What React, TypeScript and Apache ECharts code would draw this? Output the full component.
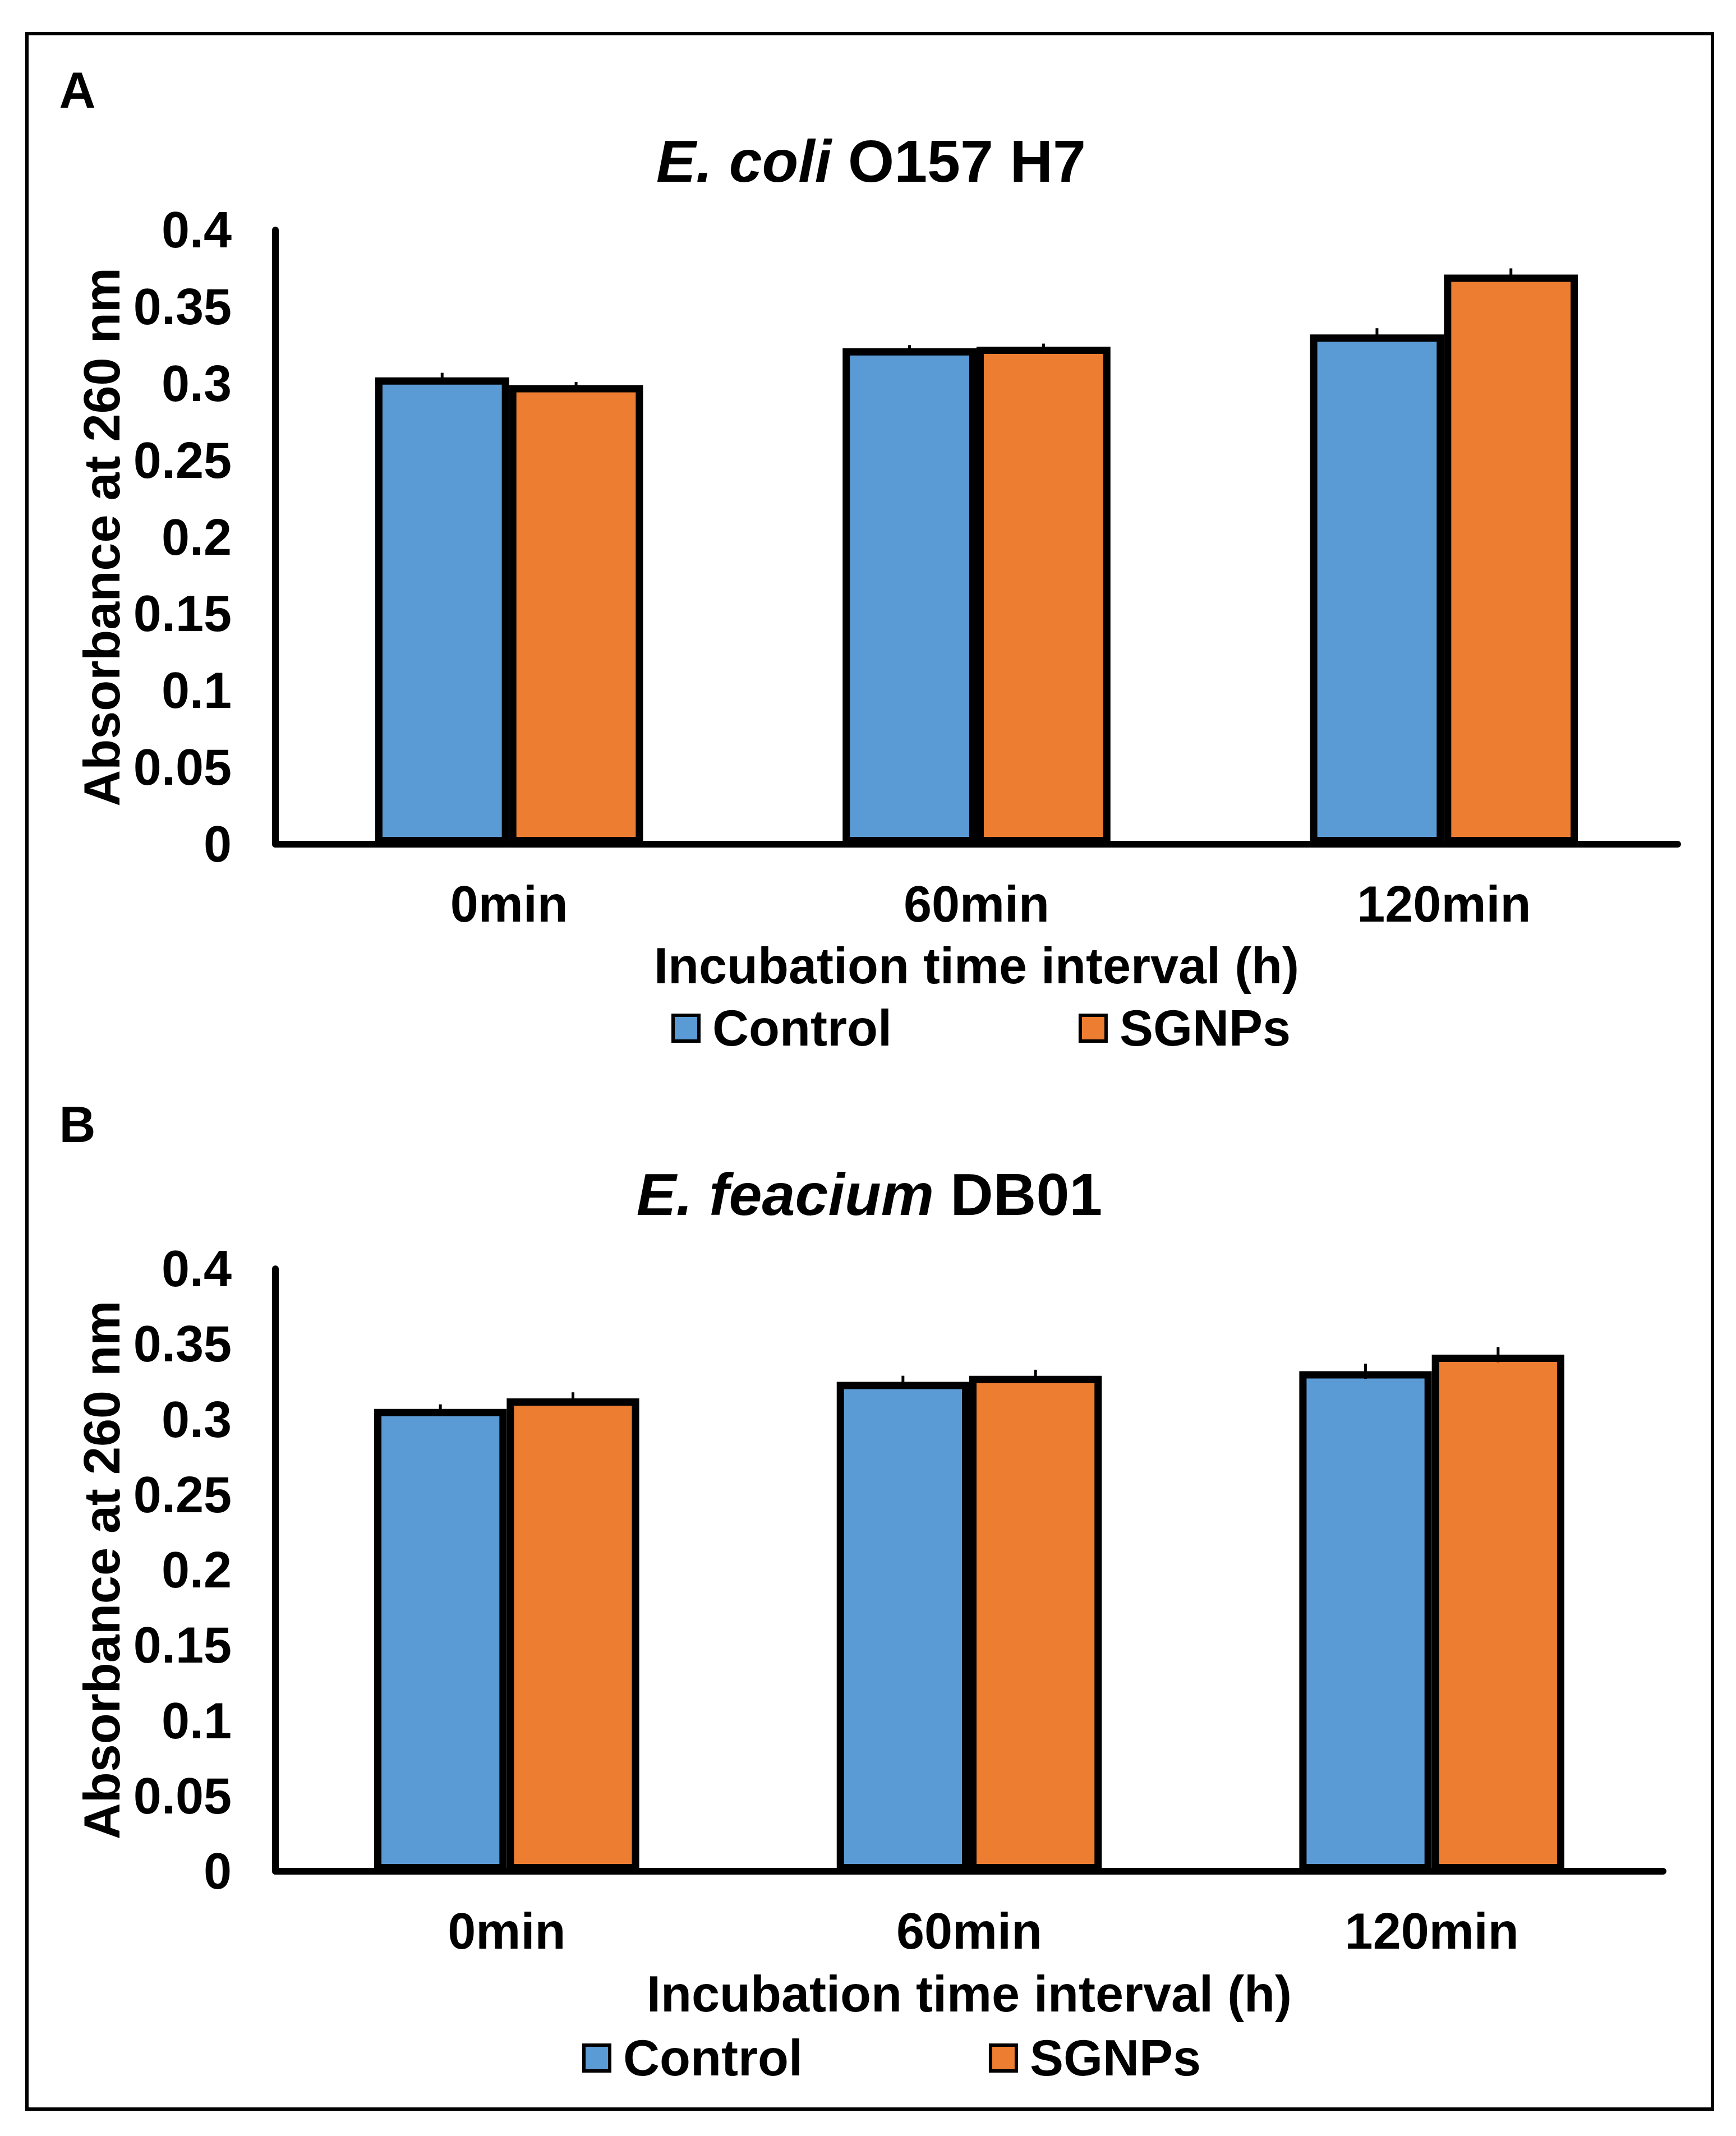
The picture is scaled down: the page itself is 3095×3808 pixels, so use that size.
import React, { useEffect, useRef } from "react";
import * as echarts from "echarts";

const categories = ["0min", "60min", "120min"];
const seriesNames = ["Control", "SGNPs"];

// Panel A: E. coli O157 H7
const controlA = [0.304, 0.323, 0.332];
const sgnpsA = [0.299, 0.324, 0.371];
const controlErrA = [0.003, 0.002, 0.004];
const sgnpsErrA = [0.002, 0.002, 0.004];

// Panel B: E. feacium DB01
const controlB = [0.307, 0.325, 0.332];
const sgnpsB = [0.314, 0.329, 0.343];
const controlErrB = [0.003, 0.004, 0.005];
const sgnpsErrB = [0.004, 0.004, 0.005];

const yMin = 0;
const yMax = 0.4;
const yInterval = 0.05;

const FONT = '"Liberation Sans", Arial, Helvetica, sans-serif';
const BLUE = "#5B9BD5";
const ORANGE = "#ED7D31";

function errSeries(name: string, vals: number[], errs: number[], side: number, axisIndex: number) {
  return {
    name,
    type: "custom",
    xAxisIndex: axisIndex,
    yAxisIndex: axisIndex,
    z: 10,
    encode: { x: 0, y: 1 },
    data: vals.map((v, i) => [i, v, errs[i]]),
    renderItem: (params: any, api: any) => {
      const i = api.value(0);
      const v = api.value(1);
      const e = api.value(2);
      const band = api.size([1, 0])[0];
      const off = side * band * 0.1433;
      const top = api.coord([i, v + e]);
      const bot = api.coord([i, v - e]);
      return {
        type: "line",
        shape: { x1: top[0] + off, y1: top[1], x2: top[0] + off, y2: bot[1] },
        style: { stroke: "#000", lineWidth: 5 },
      };
    },
  };
}

function barSeries(name: string, vals: number[], color: string, axisIndex: number) {
  return {
    name,
    type: "bar",
    xAxisIndex: axisIndex,
    yAxisIndex: axisIndex,
    barGap: "0%",
    barCategoryGap: "42.7%",
    data: vals,
    itemStyle: { color, borderColor: "#000", borderWidth: 13 },
  };
}

function xAxisDef(gridIndex: number, nameGap: number) {
  return {
    type: "category",
    gridIndex,
    data: categories,
    axisLine: { show: true, lineStyle: { color: "#000", width: 12 } },
    axisTick: { show: false },
    axisLabel: {
      margin: 62,
      color: "#000",
      fontSize: 90,
      fontWeight: "bold",
      fontFamily: FONT,
    },
    name: "Incubation time interval (h)",
    nameLocation: "middle",
    nameGap,
    nameTextStyle: { color: "#000", fontSize: 90, fontWeight: "bold", fontFamily: FONT },
  };
}

function yAxisDef(gridIndex: number) {
  return {
    type: "value",
    gridIndex,
    min: yMin,
    max: yMax,
    interval: yInterval,
    splitLine: { show: false },
    axisLine: { show: true, lineStyle: { color: "#000", width: 12 } },
    axisTick: { show: false },
    axisLabel: {
      margin: 78,
      color: "#000",
      fontSize: 90,
      fontWeight: "bold",
      fontFamily: FONT,
    },
    name: "Absorbance at 260 nm",
    nameLocation: "middle",
    nameRotate: 90,
    nameGap: 262,
    nameTextStyle: { color: "#000", fontSize: 90, fontWeight: "bold", fontFamily: FONT },
  };
}

function legendDef(left: number, centerY: number, gap: number) {
  return {
    data: seriesNames,
    left,
    top: centerY - 45,
    orient: "horizontal",
    icon: "rect",
    itemWidth: 46,
    itemHeight: 46,
    itemGap: gap,
    itemStyle: { borderColor: "#000", borderWidth: 6 },
    textStyle: {
      color: "#000",
      fontSize: 90,
      fontWeight: "bold",
      fontFamily: FONT,
      padding: [0, 0, 0, 19],
    },
  };
}

function titleText(x: number, y: number, italicPart: string, rest: string) {
  return {
    type: "text",
    x,
    y,
    z: 20,
    style: {
      text: "{i|" + italicPart + "} " + rest,
      rich: {
        i: { fontStyle: "italic", fontWeight: "bold", fontSize: 106, fontFamily: FONT, fill: "#000" },
      },
      fontSize: 106,
      fontWeight: "bold",
      fontFamily: FONT,
      fill: "#000",
      align: "center",
      textAlign: "center",
      verticalAlign: "middle",
      textVerticalAlign: "middle",
    },
  };
}

function panelLabel(x: number, y: number, t: string) {
  return {
    type: "text",
    x,
    y,
    z: 20,
    style: {
      text: t,
      fontSize: 90,
      fontWeight: "bold",
      fontFamily: FONT,
      fill: "#000",
      align: "center",
      textAlign: "center",
      verticalAlign: "middle",
      textVerticalAlign: "middle",
    },
  };
}

export default function App() {
  const ref = useRef<HTMLDivElement>(null);
  useEffect(() => {
    if (!ref.current) return;
    const chart = echarts.init(ref.current, null, { renderer: "svg" });
    const option: any = {
      animation: false,
      backgroundColor: "#fff",
      grid: [
        { left: 491, top: 410, width: 2500, height: 1095 },
        { left: 491, top: 2262, width: 2474, height: 1074 },
      ],
      xAxis: [xAxisDef(0, 172), xAxisDef(1, 174)],
      yAxis: [yAxisDef(0), yAxisDef(1)],
      legend: [legendDef(1192, 1828, 333), legendDef(1033, 3664, 332)],
      series: [
        barSeries("Control", controlA, BLUE, 0),
        barSeries("SGNPs", sgnpsA, ORANGE, 0),
        barSeries("Control", controlB, BLUE, 1),
        barSeries("SGNPs", sgnpsB, ORANGE, 1),
        errSeries("errCA", controlA, controlErrA, -1, 0),
        errSeries("errSA", sgnpsA, sgnpsErrA, 1, 0),
        errSeries("errCB", controlB, controlErrB, -1, 1),
        errSeries("errSB", sgnpsB, sgnpsErrB, 1, 1),
      ],
      graphic: [
        {
          type: "rect",
          z: 1,
          shape: { x: 48, y: 60, width: 3005, height: 3700 },
          style: { fill: "none", stroke: "#000", lineWidth: 6 },
        },
        panelLabel(138, 161, "A"),
        panelLabel(138, 2005, "B"),
        titleText(1553, 287, "E. coli", "O157 H7"),
        titleText(1550, 2129, "E. feacium", "DB01"),
      ],
    };
    chart.setOption(option);
    return () => chart.dispose();
  }, []);
  return (
    <div
      ref={ref}
      style={{ position: "absolute", left: 0, top: 0, width: 3095, height: 3808, background: "#fff" }}
    />
  );
}
